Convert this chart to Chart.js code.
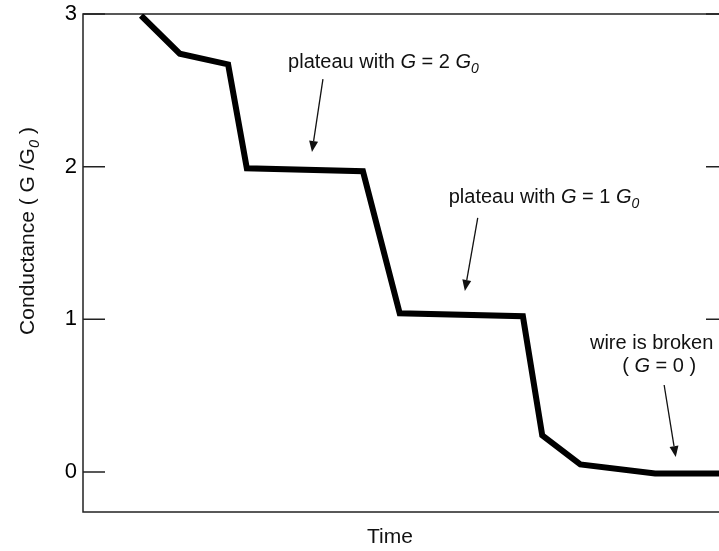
<!DOCTYPE html>
<html>
<head>
<meta charset="utf-8">
<script src="https://cdn.jsdelivr.net/npm/chart.js@4"></script>
<style>
  html, body { margin: 0; padding: 0; background: #fff; overflow: hidden; }
  #wrap { width: 740px; height: 551px; }
</style>
</head>
<body>
<div id="wrap"><canvas id="plot" width="740" height="551"></canvas></div>
<script>
// conductance trace of a breaking wire
const timeValues = [9.0, 15.0, 22.5, 25.4, 43.4, 49.1, 68.2, 71.2, 77.1, 88.7, 100];
const conductance = [2.99, 2.74, 2.67, 1.99, 1.97, 1.04, 1.02, 0.24, 0.05, -0.01, -0.01];
const yTicks = [0, 1, 2, 3];

const FONT = "'Liberation Sans', Arial, Helvetica, sans-serif";

// annotations, placed in data units
const notes = [
  { x: 31.8, y: 2.646, parts: [{ t: 'plateau with ' }, { t: 'G', i: 1 }, { t: ' = 2 ' }, { t: 'G', i: 1 }, { t: '0', i: 1, sub: 1 }],
    arrow: [37.2, 2.574, 35.5, 2.096] },
  { x: 56.7, y: 1.762, parts: [{ t: 'plateau with ' }, { t: 'G', i: 1 }, { t: ' = 1 ' }, { t: 'G', i: 1 }, { t: '0', i: 1, sub: 1 }],
    arrow: [61.2, 1.664, 59.2, 1.186] },
  { x: 78.6, y: 0.806, parts: [{ t: 'wire is broken' }] },
  { x: 83.6, y: 0.655, parts: [{ t: '( ' }, { t: 'G', i: 1 }, { t: ' = 0 )' }],
    arrow: [90.1, 0.570, 91.9, 0.098] }
];

function drawRich(ctx, parts, x, y, size) {
  let cx = x;
  parts.forEach(p => {
    const s = p.sub ? size * 0.7 : size;
    ctx.font = (p.i ? 'italic ' : '') + s + 'px ' + FONT;
    ctx.fillText(p.t, cx, p.sub ? y + size * 0.25 : y);
    cx += ctx.measureText(p.t).width;
  });
  return cx - x;
}

function richWidth(ctx, parts, size) {
  let w = 0;
  parts.forEach(p => {
    const s = p.sub ? size * 0.7 : size;
    ctx.font = (p.i ? 'italic ' : '') + s + 'px ' + FONT;
    w += ctx.measureText(p.t).width;
  });
  return w;
}

function arrow(ctx, x1, y1, x2, y2) {
  const ang = Math.atan2(y2 - y1, x2 - x1);
  const len = 11, half = 4.5;
  const bx = x2 - len * Math.cos(ang), by = y2 - len * Math.sin(ang);
  ctx.beginPath();
  ctx.moveTo(x1, y1);
  ctx.lineTo(bx, by);
  ctx.stroke();
  ctx.beginPath();
  ctx.moveTo(x2, y2);
  ctx.lineTo(bx + half * Math.sin(ang), by - half * Math.cos(ang));
  ctx.lineTo(bx - half * Math.sin(ang), by + half * Math.cos(ang));
  ctx.closePath();
  ctx.fill();
}

const frame = {
  id: 'frame',
  beforeDatasetsDraw(chart) {
    const { ctx, chartArea: a, scales: { y } } = chart;
    ctx.save();
    ctx.strokeStyle = '#222';
    ctx.lineWidth = 1.5;
    ctx.strokeRect(a.left, a.top, a.right - a.left, a.bottom - a.top);
    ctx.beginPath();
    yTicks.forEach(v => {
      const py = y.getPixelForValue(v);
      ctx.moveTo(a.left, py);
      ctx.lineTo(a.left + 22, py);
      ctx.moveTo(a.right, py);
      ctx.lineTo(a.right - 22, py);
    });
    ctx.stroke();
    ctx.restore();
  },
  afterDraw(chart) {
    const { ctx, scales: { x, y } } = chart;
    ctx.save();
    ctx.fillStyle = '#111';
    ctx.strokeStyle = '#111';
    ctx.lineWidth = 1.3;
    ctx.textBaseline = 'alphabetic';

    notes.forEach(n => {
      drawRich(ctx, n.parts, x.getPixelForValue(n.x), y.getPixelForValue(n.y), 20);
      if (n.arrow) {
        const [x1, y1, x2, y2] = n.arrow;
        arrow(ctx, x.getPixelForValue(x1), y.getPixelForValue(y1),
                   x.getPixelForValue(x2), y.getPixelForValue(y2));
      }
    });

    // axis titles
    ctx.font = '21px ' + FONT;
    ctx.textAlign = 'center';
    ctx.fillText('Time', 390, 543);

    const yTitle = [{ t: 'Conductance ( G /G' }, { t: '0', i: 1, sub: 1 }, { t: ' )' }];
    ctx.textAlign = 'left';
    const w = richWidth(ctx, yTitle, 21);
    ctx.translate(34, 231);
    ctx.rotate(-Math.PI / 2);
    drawRich(ctx, yTitle, -w / 2, 0, 21);
    ctx.restore();
  }
};

new Chart(document.getElementById('plot'), {
  type: 'line',
  data: {
    datasets: [{
      data: timeValues.map((t, i) => ({ x: t, y: conductance[i] })),
      borderColor: '#000',
      borderWidth: 6,
      borderJoinStyle: 'miter',
      borderCapStyle: 'butt',
      pointRadius: 0,
      tension: 0,
      fill: false
    }]
  },
  options: {
    responsive: false,
    animation: false,
    layout: { padding: { top: 14, right: 12, bottom: 0, left: 0 } },
    plugins: { legend: { display: false }, tooltip: { enabled: false } },
    scales: {
      x: {
        type: 'linear',
        min: 0,
        max: 100,
        ticks: { display: false },
        grid: { display: false },
        border: { display: false },
        afterFit(scale) { scale.height = 39; }
      },
      y: {
        min: -0.262,
        max: 3,
        afterBuildTicks(scale) { scale.ticks = yTicks.map(v => ({ value: v })); },
        ticks: { color: '#000', padding: 6, font: { family: FONT, size: 22 } },
        grid: { drawOnChartArea: false, drawTicks: false },
        border: { display: false },
        afterFit(scale) {
          scale.width = 83;
          scale.paddingTop = 0;
          scale.paddingBottom = 0;
        }
      }
    }
  },
  plugins: [frame]
});
</script>
</body>
</html>
